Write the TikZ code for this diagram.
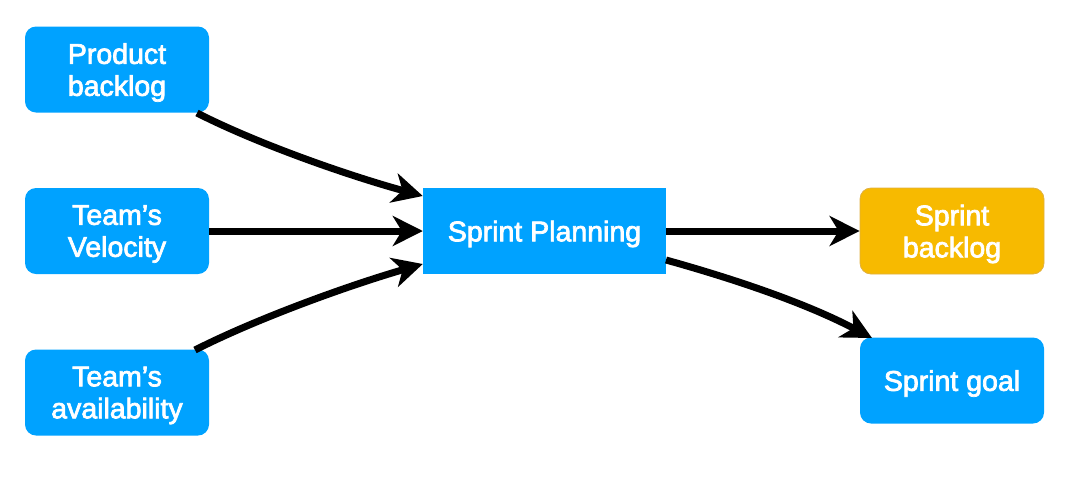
\documentclass[tikz,border=0pt]{standalone}
\usepackage{fontspec}
\setmainfont{Liberation Sans}
\newfontfamily\medfont{Liberation Sans}[FakeBold=2.5]
\usetikzlibrary{arrows.meta}
\definecolor{kblue}{HTML}{00A2FF}
\definecolor{korange}{HTML}{F7BA00}
\definecolor{korangeline}{HTML}{E0B040}
\tikzset{
  boxbase/.style={minimum width=184pt, minimum height=86pt, inner sep=0pt, text=white,
    align=center, text depth=0pt, font=\medfont\fontsize{28.5}{32}\selectfont},
  rbox/.style={boxbase, rounded corners=11pt, fill=kblue},
  obox/.style={boxbase, rounded corners=11pt, fill=korange, draw=korangeline, line width=0.8pt},
  pbox/.style={boxbase, minimum width=243pt, fill=kblue},
  flow/.style={line width=7pt, -{Stealth[length=30pt, width=30pt, inset=9pt]}}
}
\begin{document}
\begin{tikzpicture}[x=1pt, y=-1pt]
\useasboundingbox (0,0) rectangle (1067,483);
\node[rbox] (pb) at (117,69.5) {Product\\backlog};
\node[rbox] (tv) at (117,231) {Team’s\\Velocity};
\node[rbox] (ta) at (117,392.5) {Team’s\\availability};
\node[pbox] (sp) at (544.5,231) {Sprint Planning};
\node[obox] (sb) at (952,231) {Sprint\\backlog};
\node[rbox] (sg) at (952,380.5) {Sprint goal};
\coordinate (pbs) at (197,113);
\coordinate (tas) at (195,350);
\coordinate (spe) at (666,260);
\coordinate (sgt) at (872,338);
\draw[flow] (pbs) .. controls (260,145) and (350,176) .. (sp.west |- 0,196);
\draw[flow] (tv.east) -- (sp.west);
\draw[flow] (tas) .. controls (258,318) and (350,285) .. (sp.west |- 0,264);
\draw[flow] (sp.east) -- (sb.west);
\draw[flow] (spe) .. controls (720,275) and (800,300) .. (sgt);
\end{tikzpicture}
\end{document}
